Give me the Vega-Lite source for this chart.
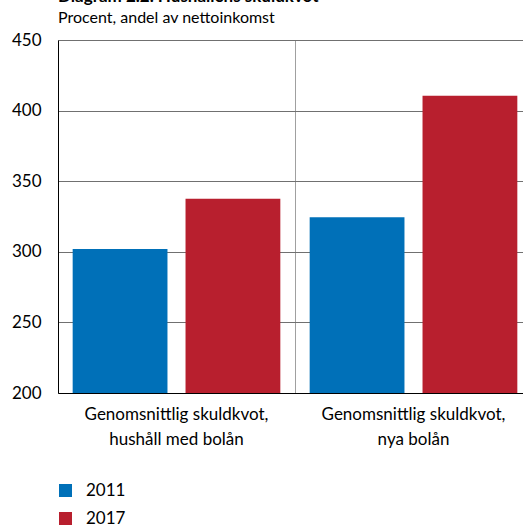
{
  "$schema": "https://vega.github.io/schema/vega-lite/v6.json",
  "width": 474,
  "height": 353,
  "padding": {"left": 11, "top": -12, "right": 0, "bottom": 0},
  "background": "white",
  "title": {
    "text": "Diagram 2.2. Hushållens skuldkvot",
    "subtitle": "Procent, andel av nettoinkomst",
    "anchor": "start",
    "frame": "group",
    "font": "Lato",
    "fontSize": 17,
    "fontWeight": "bold",
    "color": "#000000",
    "subtitleFont": "Lato",
    "subtitleFontSize": 16,
    "subtitleColor": "#000000",
    "subtitlePadding": 4,
    "offset": 4
  },
  "data": {
    "values": [
      {"kategori": "Genomsnittlig skuldkvot, hushåll med bolån", "ar": "2011", "varde": 302},
      {"kategori": "Genomsnittlig skuldkvot, hushåll med bolån", "ar": "2017", "varde": 337.5},
      {"kategori": "Genomsnittlig skuldkvot, nya bolån", "ar": "2011", "varde": 324.5},
      {"kategori": "Genomsnittlig skuldkvot, nya bolån", "ar": "2017", "varde": 410.5}
    ]
  },
  "mark": {"type": "bar", "clip": true},
  "encoding": {
    "x": {
      "field": "kategori",
      "type": "nominal",
      "sort": null,
      "scale": {"paddingInner": 0, "paddingOuter": 0},
      "axis": {
        "title": null,
        "labelAngle": 0,
        "bandPosition": 0,
        "grid": true,
        "gridColor": "#a0a0a0",
        "gridWidth": 1,
        "ticks": false,
        "domainColor": "#000000",
        "domainWidth": 1,
        "labelFont": "Lato",
        "labelFontSize": 17,
        "labelColor": "#000000",
        "labelPadding": 13,
        "labelLineHeight": 25,
        "labelLimit": 400,
        "labelExpr": "[slice(datum.value, 0, indexof(datum.value, ',') + 1), trim(slice(datum.value, indexof(datum.value, ',') + 1))]"
      }
    },
    "xOffset": {
      "field": "ar",
      "type": "nominal",
      "scale": {"paddingInner": 0.16, "paddingOuter": 0.13}
    },
    "y": {
      "field": "varde",
      "type": "quantitative",
      "scale": {"domain": [200, 450], "zero": false},
      "axis": {
        "title": null,
        "values": [200, 250, 300, 350, 400, 450],
        "grid": true,
        "gridColor": "#707070",
        "gridWidth": 1,
        "ticks": false,
        "domainColor": "#000000",
        "domainWidth": 1,
        "labelFont": "Lato",
        "labelFontSize": 17,
        "labelColor": "#000000",
        "labelPadding": 17
      }
    },
    "color": {
      "field": "ar",
      "type": "nominal",
      "scale": {"domain": ["2011", "2017"], "range": ["#0070b8", "#b81f2e"]},
      "legend": {
        "title": null,
        "orient": "none",
        "legendX": -1,
        "legendY": 442,
        "direction": "vertical",
        "symbolType": "square",
        "symbolSize": 169,
        "symbolStrokeWidth": 0,
        "symbolOpacity": 1,
        "labelFont": "Lato",
        "labelFontSize": 17,
        "labelColor": "#000000",
        "labelOffset": 12,
        "rowPadding": 10
      }
    }
  },
  "config": {
    "view": {"stroke": null}
  }
}
